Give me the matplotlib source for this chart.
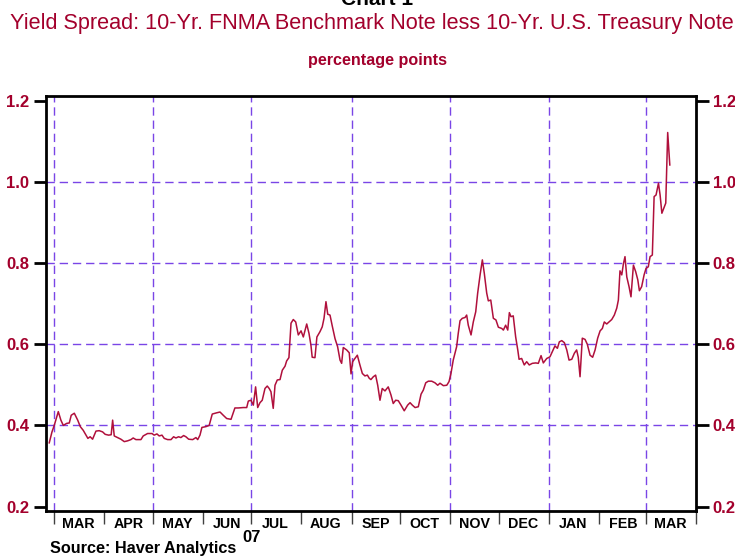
import matplotlib
matplotlib.use("Agg")
import matplotlib.pyplot as plt
import pandas as pd
import numpy as np

# ---- data ----
start_date = "2007-03-01"
day_offsets = [-2.9, -1.2, 0.2, 2.7, 4.3, 5.8, 7.9, 9.5, 10.7, 12.6, 14.7, 16.3, 18.1, 19.8, 21.0, 22.4, 23.9, 26.0, 28.0, 30.1,
               31.7, 33.8, 35.4, 36.3, 37.3, 39.4, 41.4, 43.5, 45.6, 47.6, 49.0, 50.7, 53.8, 55.2, 57.9, 60.6, 62.0, 63.7, 65.1, 66.8,
               68.2, 70.3, 72.4, 74.0, 75.4, 77.1, 78.5, 80.2, 81.6, 83.3, 85.8, 87.8, 88.9, 90.3, 91.5, 94.0, 96.0,
               97.9, 100.6, 102.7, 104.7, 106.8, 109.5, 111.9, 114.0, 117.1, 119.2, 120.2, 121.8, 123.3, 124.7, 126.0, 127.4, 128.8, 130.5, 131.9, 133.1,
               134.2, 135.6, 136.7, 138.1, 139.8, 141.2, 142.9, 143.9, 145.3, 146.6, 148.0, 149.5, 151.1, 152.8, 154.2, 156.3, 157.7, 158.9, 159.7, 161.4,
               162.6, 164.5, 165.9, 167.0, 168.2, 169.3, 170.7, 172.1, 173.8, 175.4, 176.9, 177.9, 178.9, 181.0, 182.6, 183.7, 184.7, 186.1, 187.6, 189.2,
               190.7, 192.3, 193.8, 195.0,
               196.0, 197.5, 198.9, 200.2, 201.6, 203.0, 204.7, 206.7, 208.4, 209.8, 211.3, 212.9, 214.6, 216.6, 218.7, 220.2, 221.6, 223.3, 225.3, 227.0,
               228.4, 229.9, 231.5, 233.6, 235.6, 237.3, 238.7, 240.8, 242.9, 244.3, 245.5, 246.9, 249.0, 250.0, 251.1, 252.5, 254.2, 255.2, 256.2, 257.9,
               259.3, 260.8, 262.0, 263.5, 264.9, 266.1, 267.6, 268.6, 270.1, 271.7, 273.3, 274.8, 276.9, 277.9, 279.3, 280.6, 281.6, 282.6, 284.0, 285.5,
               286.8, 287.6, 289.2, 290.8, 292.3, 293.9,
               295.8, 297.9, 299.5, 301.2, 302.6, 304.7, 306.7, 308.2, 309.8, 311.3, 312.5, 314.0, 315.6, 317.1, 318.5, 320.2, 321.8, 323.2, 324.2, 325.3,
               326.7, 328.4, 329.8, 331.5, 333.1, 334.6, 336.2, 337.7, 339.1, 340.3, 341.8, 343.2, 344.9, 346.5, 348.0, 349.0, 350.0, 351.1, 352.1, 353.1,
               354.2, 355.6, 356.8, 358.3, 359.7, 361.0, 362.0, 363.4, 364.9, 366.1, 367.5, 368.6, 370.0, 371.1, 372.3, 373.8, 374.8, 375.9, 377.3, 378.3,
               379.5, 380.8]
spread = [0.357, 0.384, 0.40, 0.434, 0.413, 0.40, 0.405, 0.406, 0.425, 0.43, 0.413, 0.397, 0.388, 0.376, 0.368, 0.372, 0.366, 0.386, 0.387, 0.384,
          0.378, 0.376, 0.377, 0.413, 0.374, 0.37, 0.366, 0.36, 0.362, 0.365, 0.369, 0.365, 0.365, 0.374, 0.38, 0.38, 0.376, 0.379, 0.374, 0.376,
          0.368, 0.365, 0.365, 0.372, 0.369, 0.372, 0.37, 0.375, 0.372, 0.366, 0.365, 0.37, 0.365, 0.376, 0.395, 0.397, 0.40,
          0.428, 0.431, 0.433, 0.425, 0.417, 0.415, 0.443, 0.443, 0.444, 0.444, 0.46, 0.462, 0.45, 0.495, 0.444, 0.456, 0.462, 0.491, 0.497, 0.491,
          0.483, 0.442, 0.499, 0.512, 0.513, 0.536, 0.546, 0.559, 0.567, 0.652, 0.661, 0.655, 0.623, 0.633, 0.618, 0.65, 0.627, 0.598, 0.568, 0.567,
          0.618, 0.631, 0.643, 0.664, 0.705, 0.674, 0.672, 0.645, 0.614, 0.594, 0.561, 0.553, 0.592, 0.586, 0.579, 0.527, 0.557, 0.565, 0.573, 0.549,
          0.528, 0.522, 0.524, 0.516,
          0.513, 0.52, 0.524, 0.499, 0.462, 0.491, 0.485, 0.495, 0.475, 0.454, 0.462, 0.461, 0.45, 0.436, 0.45, 0.456, 0.45, 0.444, 0.446, 0.477,
          0.487, 0.505, 0.509, 0.509, 0.505, 0.499, 0.504, 0.498, 0.499, 0.508, 0.528, 0.561, 0.594, 0.627, 0.658, 0.664, 0.666, 0.672, 0.647, 0.623,
          0.655, 0.68, 0.726, 0.771, 0.808, 0.775, 0.726, 0.707, 0.709, 0.664, 0.66, 0.642, 0.639, 0.635, 0.647, 0.635, 0.678, 0.668, 0.67, 0.618,
          0.586, 0.563, 0.565, 0.549, 0.557, 0.549,
          0.553, 0.554, 0.553, 0.572, 0.554, 0.565, 0.569, 0.582, 0.596, 0.59, 0.606, 0.609, 0.604, 0.586, 0.561, 0.563, 0.578, 0.586, 0.568, 0.52,
          0.615, 0.612, 0.60, 0.573, 0.568, 0.586, 0.615, 0.633, 0.639, 0.655, 0.65, 0.655, 0.661, 0.672, 0.689, 0.709, 0.781, 0.771, 0.798, 0.816,
          0.766, 0.742, 0.717, 0.795, 0.779, 0.759, 0.732, 0.742, 0.771, 0.787, 0.791, 0.816, 0.82, 0.964, 0.968, 0.997, 0.968, 0.923, 0.938, 0.948,
          1.122, 1.042]

month_labels = ["MAR", "APR", "MAY", "JUN", "JUL", "AUG", "SEP", "OCT", "NOV", "DEC", "JAN", "FEB", "MAR"]
y_ticks = [0.2, 0.4, 0.6, 0.8, 1.0, 1.2]
y_grid = [0.4, 0.6, 0.8, 1.0]
title = "Yield Spread: 10-Yr. FNMA Benchmark Note less 10-Yr. U.S. Treasury Note"
subtitle = "percentage points"
source = "Source: Haver Analytics"
chart_label = "Chart 1"
year_label = "07"

# ---- style ----
RED = "#a3002c"
LINE = "#b0103c"
GRID = "#7a45e6"
plt.rcParams["font.family"] = ["Liberation Sans", "DejaVu Sans"]

W, H = 735, 556
fig = plt.figure(figsize=(W / 100, H / 100), dpi=100)
ax = fig.add_axes([46 / W, 1 - 511 / H, 650 / W, 415 / H])

t0 = pd.Timestamp(start_date)
dates = t0 + pd.to_timedelta(np.array(day_offsets), unit="D")
ax.plot(dates, spread, color=LINE, lw=1.1, zorder=3)

ax.set_ylim(0.189, 1.212)
x_end = pd.Timestamp("2008-04-01")
ax.set_xlim(t0 - pd.Timedelta(days=4.9), x_end)

# grid lines
for yv in y_grid:
    ax.axhline(yv, color=GRID, lw=1.0, dashes=(6, 3.5), zorder=1)
month_starts = pd.date_range("2007-03-01", "2008-04-01", freq="MS")
for d in month_starts[::2]:
    if d < x_end:
        ax.axvline(d, color=GRID, lw=1.0, dashes=(6, 3.5), zorder=1)

# y ticks both sides
ax.set_yticks(y_ticks)
ax.set_yticklabels([f"{v:.1f}" for v in y_ticks])
ax.tick_params(axis="y", which="both", direction="out", length=9, width=2, color="black",
               labelcolor=RED, labelsize=12, left=True, right=True, labelleft=True, labelright=True, pad=3)
for t in ax.yaxis.get_major_ticks():
    t.label1.set_fontweight("bold")
    t.label2.set_fontweight("bold")
    t.label2.set_color(RED)

# x ticks: month starts (major, no labels), mid-months (minor, labels)
ax.set_xticks(month_starts)
ax.set_xticklabels([])
mids = month_starts[:-1] + pd.Timedelta(days=15)
ax.set_xticks(mids, minor=True)
ax.set_xticklabels(month_labels, minor=True, fontsize=10.3, fontweight="bold", color="black")
ax.tick_params(axis="x", which="major", direction="out", length=9, width=1, color="#404040")
ax.tick_params(axis="x", which="minor", length=0, pad=4)

for s in ax.spines.values():
    s.set_linewidth(2)
    s.set_color("black")

# year label
ax.text(pd.Timestamp("2007-07-01"), -0.063, year_label, transform=ax.get_xaxis_transform(),
        ha="center", va="center", fontsize=12, fontweight="bold", color="black")

fig.text(0.513, 1 - 5 / H, chart_label, ha="center", va="baseline", fontsize=15, fontweight="bold", color="black")
fig.text(10 / W, 1 - 23 / H, title, ha="left", va="center", fontsize=15.6, color=RED)
fig.text(377 / W, 1 - 61 / H, subtitle, ha="center", va="center", fontsize=11.6, fontweight="bold", color=RED)
fig.text(50 / W, 1 - 549 / H, source, ha="left", va="center", fontsize=11.7, fontweight="bold", color="black")

fig.savefig("out.png", dpi=100)
